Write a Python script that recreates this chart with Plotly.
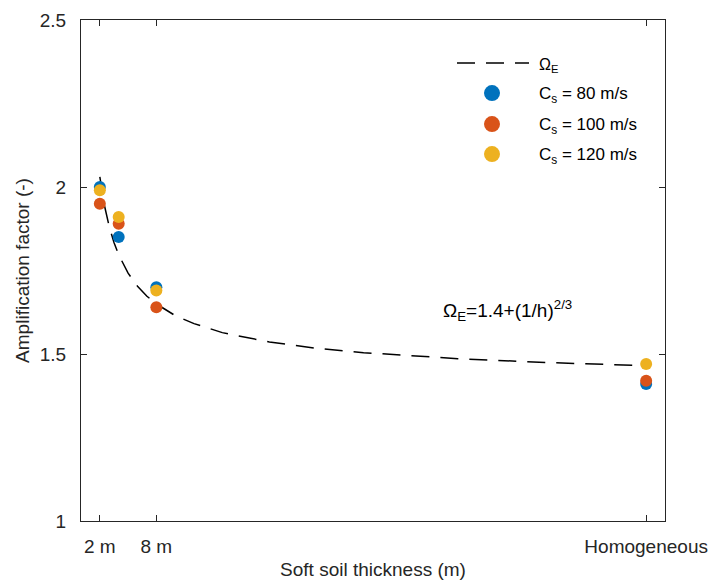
import plotly.graph_objects as go

# ---- data ----
thickness = [2, 4, 8, 60]                 # x positions (60 = "Homogeneous")
cs80 = [2.00, 1.85, 1.70, 1.41]
cs100 = [1.95, 1.89, 1.64, 1.42]
cs120 = [1.99, 1.91, 1.69, 1.47]

curve_h = [2, 2.5, 3, 3.5, 4, 5, 6, 7, 8, 10, 12, 15, 20, 25, 30, 40, 50, 60]
curve_omega = [2.03, 1.943, 1.881, 1.834, 1.797, 1.742, 1.703, 1.673, 1.650,
               1.615, 1.591, 1.564, 1.536, 1.517, 1.504, 1.486, 1.474, 1.465]

xtick_vals = [2, 8, 60]
xtick_text = ["2 m", "8 m", "Homogeneous"]
ytick_vals = [1, 1.5, 2, 2.5]
ytick_text = ["1", "1.5", "2", "2.5"]

series_names = ["C<sub>s</sub> = 80 m/s", "C<sub>s</sub> = 100 m/s", "C<sub>s</sub> = 120 m/s"]
colors = ["#0072BD", "#D95319", "#EDB120"]

FONT = "Liberation Sans, Arial, sans-serif"
AX = "#262626"

fig = go.Figure()
fig.add_trace(go.Scatter(x=curve_h, y=curve_omega, mode="lines",
                         line=dict(color="black", width=1.5, dash="18px,11px"),
                         showlegend=False, hoverinfo="skip"))
for vals, col in zip([cs80, cs100, cs120], colors):
    fig.add_trace(go.Scatter(x=thickness, y=vals, mode="markers",
                             marker=dict(color=col, size=12, line=dict(width=0)),
                             showlegend=False))

axis_common = dict(showline=True, linecolor=AX, linewidth=1, mirror="ticks",
                   ticks="inside", ticklen=6, tickwidth=1, tickcolor=AX,
                   showgrid=False, zeroline=False,
                   tickfont=dict(family=FONT, size=19, color=AX))

fig.update_xaxes(range=[0, 62], tickmode="array", tickvals=xtick_vals, ticktext=xtick_text,
                 title=dict(text="Soft soil thickness (m)", font=dict(family=FONT, size=19, color=AX), standoff=6),
                 ticklabelstandoff=8, **axis_common)
fig.update_yaxes(range=[1, 2.5], tickmode="array", tickvals=ytick_vals, ticktext=ytick_text,
                 title=dict(text="Amplification factor (-)", font=dict(family=FONT, size=19, color=AX), standoff=5),
                 ticklabelstandoff=10, **axis_common)

# ---- manual legend (MATLAB style, no box) ----
def px(xp):
    return (xp - 81) / 584.0

def py(yp):
    return (520.7 - yp) / 500.7

shapes = [dict(type="line", xref="paper", yref="paper", x0=px(457), x1=px(529), y0=py(63), y1=py(63),
               line=dict(color="black", width=1.5, dash="18px,11px"))]
annotations = [dict(xref="paper", yref="paper", x=px(537), y=py(65), xanchor="left", yanchor="middle",
                    text="Ω<sub>E</sub>", showarrow=False, font=dict(family=FONT, size=16, color="black"))]
leg_y = [93, 124, 154]
for name, col, yy in zip(series_names, colors, leg_y):
    shapes.append(dict(type="circle", xref="paper", yref="paper", xsizemode="pixel", ysizemode="pixel",
                       xanchor=px(492), yanchor=py(yy), x0=-8, x1=8, y0=-8, y1=8,
                       fillcolor=col, line=dict(width=0)))
    annotations.append(dict(xref="paper", yref="paper", x=px(537), y=py(yy + 2), xanchor="left", yanchor="middle",
                            text=name, showarrow=False, font=dict(family=FONT, size=17, color="black")))

annotations.append(dict(x=38.2, y=1.63, xref="x", yref="y", xanchor="left", yanchor="middle",
                        text="Ω<sub>E</sub>=1.4+(1/h)<sup>2/3</sup>", showarrow=False,
                        font=dict(family=FONT, size=19, color="black")))

fig.update_layout(width=711, height=584, margin=dict(l=81, r=46, t=20, b=63, autoexpand=False),
                  plot_bgcolor="white", paper_bgcolor="white",
                  shapes=shapes, annotations=annotations, showlegend=False)

fig.write_html("out.html")
